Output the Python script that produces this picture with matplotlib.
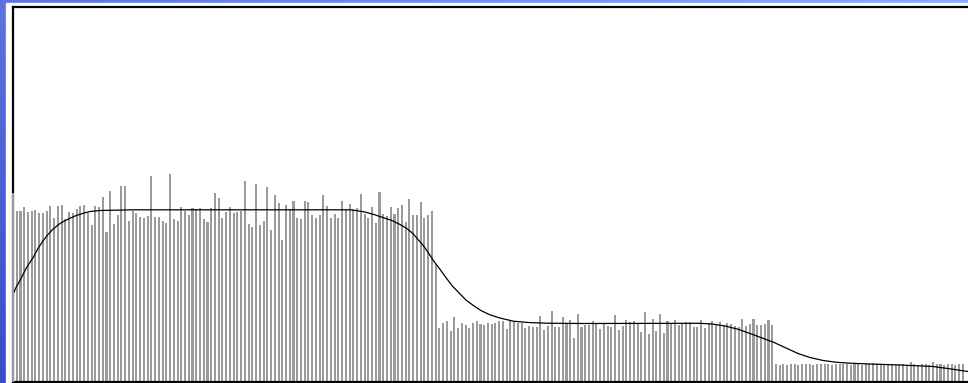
import numpy as np
import matplotlib.pyplot as plt
from matplotlib.patches import Rectangle

# Per-sample readings, three regimes
first_edge = [189]
regime_a = [171, 171, 174.7, 170, 171, 172, 169, 169, 171, 176, 164, 176, 177, 163, 169.3, 168.3,
            173, 175.7, 176.3, 169, 156.7, 176, 175, 184.7, 149.7, 190.3, 157.3, 167, 196, 195.3,
            160.7, 170.7, 168.7, 165, 163.7, 166, 206, 164.7, 164.7, 161, 158.3,
            207.7, 162.7, 161, 174.3, 170.3, 166.7, 173.3, 173, 173.7, 163, 159.7, 173.7, 188.7,
            184, 163.3, 169.3, 174.7, 168.3, 169.3, 170.3, 201, 157.7, 155, 198, 156.7, 160.7,
            194.7, 151.7, 187, 178.3, 142, 177, 173, 181, 164, 162.7, 181, 179.7, 167, 163.3,
            166.7, 187, 175.7,
            164, 167.7, 164, 180.3, 171.7, 178, 172.7, 173.7, 187.3, 167.7, 163.7, 175, 159, 190,
            167.3, 166, 175, 167.7, 173.7, 176.3, 160, 182.7, 167, 166.7, 180, 163.3, 166.7, 171]
switch_point = [118]
regime_b = [53.7, 58.3, 61, 50.3, 65, 53.7, 58.3, 57, 53.7, 58.3, 60.3, 57.7, 57, 58.3, 57.7, 59,
            60.3, 60.3, 52.3, 60.3, 60.3, 59, 59, 53.7, 55.7, 54.3, 55, 66, 51.7, 55.7, 70.3, 54.3,
            54.3, 64.3, 58.3, 61.7, 43.7, 67.7, 54.3, 57, 57, 60.3, 57.7, 53, 59, 55.7,
            55, 67, 51.7, 55.7, 61.7, 59.7, 60.3, 58.3, 49.7, 69.7, 47.7, 63, 50.3, 67.7, 49, 61,
            59, 61.7, 57, 58.3, 59.7, 59.7, 55, 55, 61.7, 53.7, 58.3, 61, 56.3, 59.7, 57, 59, 57.7,
            55.7, 54.3, 63, 55.7, 57.7, 62.3, 57, 57, 57.7, 61.7, 57]
regime_c = [17.7, 17, 17.7, 17, 17.3, 17.7, 17, 17.7, 17.3, 17.7, 17, 17.3, 17.7, 18, 17.3, 17,
            17.7, 18, 17.3, 17.7, 17, 17.7, 17.3, 17, 17.7, 17.3, 18.3, 17.3, 17.7, 17, 17.3, 17.7,
            17, 17.3, 17.7, 17, 19.3, 17.3, 17, 17.7, 17.3, 17, 19.7, 17.3, 17.7, 17, 17.3, 17.7,
            17, 17.3, 17.7]

# Smoothed level estimate
trend_x = [0, 0.8, 1.87, 3.48, 5.43, 6.68, 8.1, 9.36, 10.78, 12.57, 14.36, 16.58, 18.8, 20.6,
           23.26, 32.09, 90.1, 92.0, 94.1, 96.5, 98.9, 101.3, 103.5, 105.3, 107.0, 108.3, 109.7,
           111.0, 112.4, 114.2, 116.0, 117.6, 119.5, 121.1, 123.1, 125.1, 127.5, 130.2, 133.8,
           137.7, 142.7, 151.6, 183.7, 186.9, 190.4, 193.9, 197.1, 200.3, 203.5, 206.7, 209.9,
           213.1, 216.6, 220.3, 223.8, 229.1, 237.2, 246.0, 250.5, 255.3]
trend_y = [87, 94, 101, 113, 124.3, 133, 141, 147, 152.7, 158, 161.7, 165.5, 168.3, 170,
           171, 171.7, 171.7, 170.8, 169.5, 167, 164, 161, 157, 153, 147.7, 142, 136,
           129, 121, 112, 102.7, 95, 87.7, 81.5, 76, 71, 66.7, 63.5, 60.3,
           59, 58.3, 58, 58.2, 57.5, 55.5, 52.2, 48, 43.5, 39, 33.5, 28,
           24, 21, 19.2, 18.3, 17.5, 16.5, 15, 12.7, 10]

values = np.array(first_edge + regime_a + switch_point + regime_b + regime_c)
idx = np.arange(len(values))

fig = plt.figure(figsize=(9.68, 3.83), dpi=100)

# blue gradient frame behind everything
bg = fig.add_axes([0, 0, 1, 1])
u = np.linspace(0, 1, 400)[None, :, None]
v = np.linspace(0, 1, 160)[:, None, None]
c_tl = np.array([0x5c, 0x74, 0xdc]) / 255
c_tr = np.array([0x8c, 0xac, 0xf8]) / 255
c_bl = np.array([0x3a, 0x4c, 0xc8]) / 255
grad = c_tl + (c_tr - c_tl) * u + (c_bl - c_tl) * v
bg.imshow(np.clip(grad, 0, 1), extent=[0, 1, 0, 1], aspect='auto', origin='upper')
bg.add_patch(Rectangle((6 / 968, 0), 1, 380 / 383, color='white', transform=bg.transAxes))
bg.set_xlim(0, 1)
bg.set_ylim(0, 1)
bg.axis('off')

ax = fig.add_axes([13 / 968, 1.5 / 383, 955 / 968, 374.2 / 383])
ax.patch.set_alpha(0)
ax.bar(idx[1:], values[1:], width=0.55, color='#9b9b9b', linewidth=0, zorder=2)
ax.bar(idx[:1], values[:1], width=0.55, color='#9b9b9b', linewidth=0, zorder=4, clip_on=False)
ax.plot(trend_x, trend_y, color='black', linewidth=0.9, zorder=3)

ax.set_xlim(0, 255.35)
ax.set_ylim(0, 374.2)
ax.set_xticks([])
ax.set_yticks([])
for side in ['left', 'top', 'bottom']:
    ax.spines[side].set_linewidth(1.6)
    ax.spines[side].set_color('black')
ax.spines['right'].set_visible(False)

fig.savefig('out.png', dpi=100)
